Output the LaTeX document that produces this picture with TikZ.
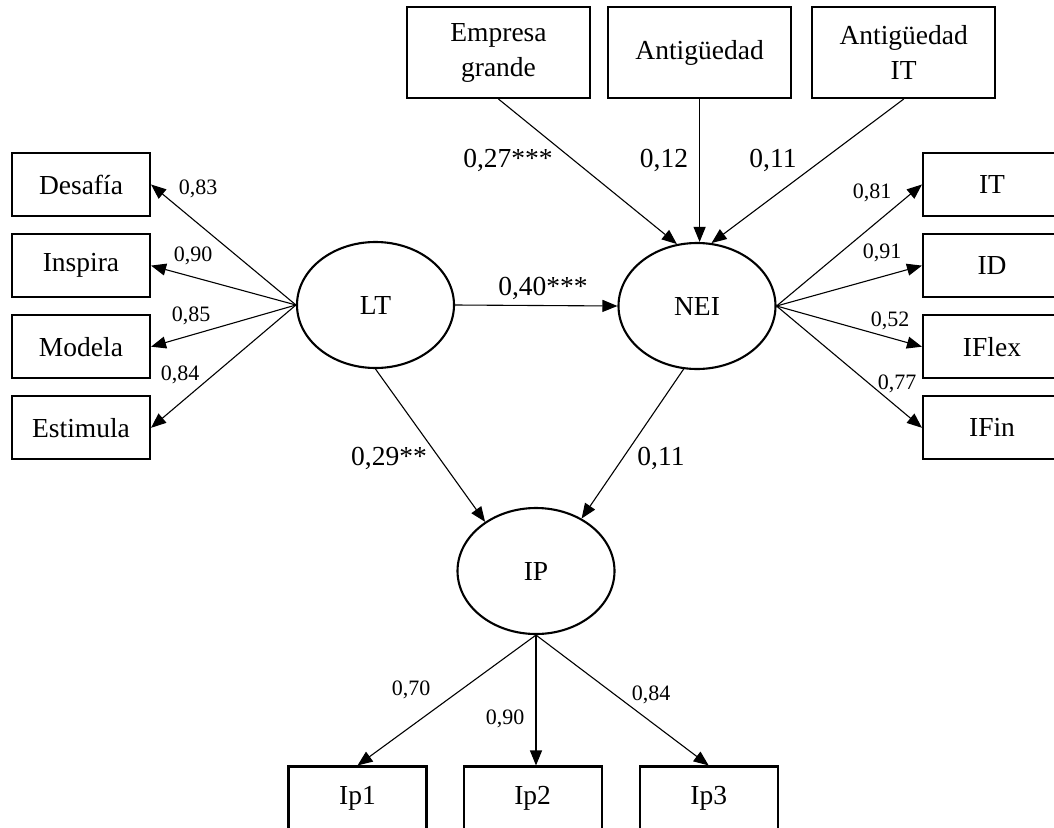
\documentclass[tikz,border=0pt]{standalone}
\usepackage{fontspec}
\setmainfont{Liberation Serif}
\usetikzlibrary{positioning, arrows.meta, shapes}

\begin{document}
\begin{tikzpicture}[
	x=1pt,
	y=-1pt,
	indicator/.style={draw, line width=2.1pt, minimum width=138pt, minimum height=63pt, inner sep=0pt, font=\fontsize{27.5}{35}\selectfont},
	control/.style={indicator, minimum width=183pt, minimum height=91pt, align=center},
	latent/.style={ellipse, draw, line width=2.1pt, minimum width=157pt, minimum height=126pt, inner sep=0pt, font=\fontsize{27.5}{35}\selectfont},
	path/.style={-{Triangle[length=15pt, width=12pt]}, line width=1.1pt},
	load/.style={inner sep=0pt, font=\fontsize{22}{26}\selectfont},
	coef/.style={inner sep=0pt, font=\fontsize{27.5}{32}\selectfont}
]
\useasboundingbox (0,0) rectangle (1054,827);

\node[latent] (lt) at (375.5,305) {LT};
\node[latent] (nei) at (697,306) {NEI};
\node[latent] (ip) at (536,571) {IP};

\node[indicator] (desafia) at (81,184.5) {Desafía};
\node[indicator, below=16pt of desafia] (inspira) {Inspira};
\node[indicator, below=16pt of inspira] (modela) {Modela};
\node[indicator, below=16pt of modela] (estimula) {Estimula};

\node[indicator] (it) at (992,184.5) {IT};
\node[indicator, below=16pt of it] (id) {ID};
\node[indicator, below=16pt of id] (iflex) {IFlex};
\node[indicator, below=16pt of iflex] (ifin) {IFin};

\node[control] (empresa) at (498.5,52.5) {Empresa\\grande};
\node[control, right=16pt of empresa] (antig) {Antigüedad};
\node[control, right=19pt of antig] (antigit) {Antigüedad\\IT};

\node[indicator] (ip1) at (357.5,798) {Ip1};
\node[indicator, right=35pt of ip1] (ip2) {Ip2};
\node[indicator, right=36pt of ip2] (ip3) {Ip3};

\draw[path] (lt.west) -- (desafia.east);
\draw[path] (lt.west) -- (inspira.east);
\draw[path] (lt.west) -- (modela.east);
\draw[path] (lt.west) -- (estimula.east);

\draw[path] (nei.east) -- (it.west);
\draw[path] (nei.east) -- (id.west);
\draw[path] (nei.east) -- (iflex.west);
\draw[path] (nei.east) -- (ifin.west);

\draw[path] (empresa.south) -- (nei.108);
\draw[path] (antig.south) -- (antig.south |- nei.north);
\draw[path] (antigit.south) -- (nei.77);

\draw[path] (lt.east) -- (nei.west);
\draw[path] (lt.south) -- (ip.136);
\draw[path] (nei.258) -- (ip.49);

\draw[path] (ip.south) -- (ip1.north);
\draw[path] (ip.south) -- (ip.south |- ip2.north);
\draw[path] (ip.south) -- (ip3.north);

\node[load] (wdes) at (198,189) {0,83};
\node[load] (wins) at (193,256) {0,90};
\node[load] (wmod) at (191,316) {0,85};
\node[load] (west) at (180,375) {0,84};
\node[load] (wit) at (872,193) {0,81};
\node[load] (wid) at (882,253) {0,91};
\node[load] (wflex) at (890,321) {0,52};
\node[load] (wfin) at (897,384) {0,77};
\node[load] (wip1) at (411,690) {0,70};
\node[load] (wip2) at (505,719) {0,90};
\node[load] (wip3) at (651,695) {0,84};

\node[coef] (bemp) at (508,160) {0,27***};
\node[coef] (bant) at (664,160) {0,12};
\node[coef] (bantit) at (773,160) {0,11};
\node[coef] (bltnei) at (543,288) {0,40***};
\node[coef] (bltip) at (389,458) {0,29**};
\node[coef] (bneiip) at (661,458) {0,11};

\end{tikzpicture}
\end{document}
